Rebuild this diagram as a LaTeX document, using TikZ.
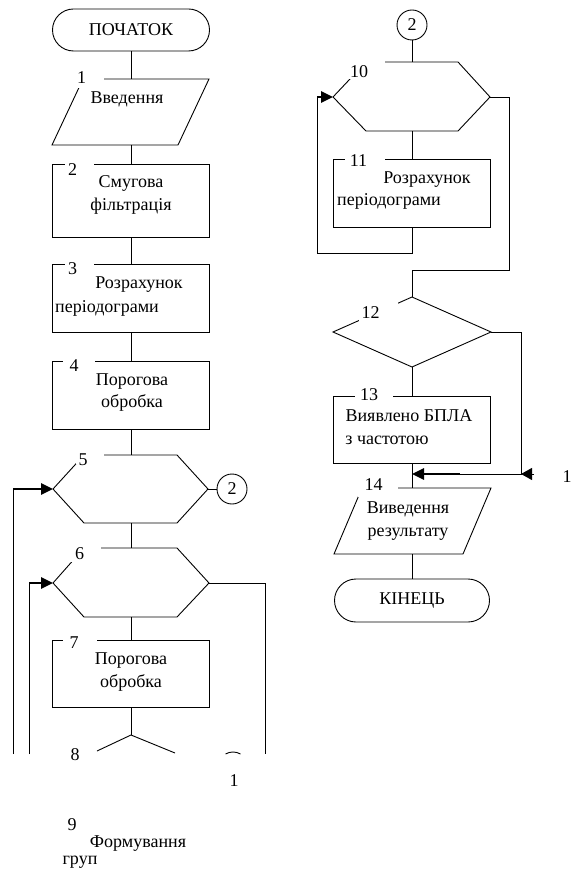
\documentclass[tikz,border=0pt]{standalone}
\usepackage{fontspec}
\setmainfont{Liberation Serif}
\usetikzlibrary{arrows.meta}
\begin{document}
\begin{tikzpicture}[x=1pt,y=-1pt, line width=0.9pt,
  every node/.style={font=\fontsize{18}{21}\selectfont, inner sep=0pt},
  txt/.style={text height=12pt, text depth=4pt},
  blk/.style={draw, minimum width=157pt},
  term/.style={draw, rounded corners=21pt, minimum width=157pt, minimum height=42pt},
  conn/.style={draw, circle, minimum size=30pt},
  mask/.style={fill=white, draw=none},
  thk/.style={line width=2.6pt, -{Triangle[length=12pt,width=11pt]}},
  ]
\useasboundingbox (0,0) rectangle (570,874);

% ---------------- left column ----------------
\node[term] (start) at (131,30) {ПОЧАТОК};

\coordinate (p1a) at (52,145); \coordinate (p1b) at (83,79);
\coordinate (p1c) at (209,79); \coordinate (p1d) at (178,145);
\coordinate (b1t) at (131,79); \coordinate (b1b) at (131,145);
\draw (p1a) -- (p1b) -- (p1c) -- (p1d) -- cycle;
\draw (start.south) -- (b1t);
\node[txt] (t1) at (127,100) {Введення};

\node[blk, minimum height=73pt] (b2) at (131,200.5) {};
\draw (b1b) -- (b2.north);
\node[txt] (t2a) at (131,184) {Смугова};
\node[txt] (t2b) at (131,207) {фільтрація};

\node[blk, minimum height=68pt] (b3) at (131,298) {};
\draw (b2.south) -- (b3.north);
\node[txt] (t3a) at (139,284) {Розрахунок};
\node[txt] (t3b) at (107,308) {періодограми};

\node[blk, minimum height=68pt] (b4) at (131,395) {};
\draw (b3.south) -- (b4.north);
\node[txt] (t4a) at (132,381) {Порогова};
\node[txt] (t4b) at (132,403) {обробка};

\coordinate (h5l) at (53,489); \coordinate (h5a) at (84,455);
\coordinate (h5b) at (177,455); \coordinate (h5r) at (208,489);
\coordinate (h5c) at (177,523); \coordinate (h5d) at (84,523);
\coordinate (h5t) at (131,455); \coordinate (h5bt) at (131,523);
\draw (h5l) -- (h5a) -- (h5b) -- (h5r) -- (h5c) -- (h5d) -- cycle;
\draw (b4.south) -- (h5t);
\node[conn] (c5) at (232,489) {2};
\draw (h5r) -- (c5.west);

\coordinate (h6l) at (53,583); \coordinate (h6a) at (84,548);
\coordinate (h6b) at (177,548); \coordinate (h6r) at (209,583);
\coordinate (h6c) at (177,617); \coordinate (h6d) at (84,617);
\coordinate (h6t) at (131,548); \coordinate (h6bt) at (131,617);
\draw (h6l) -- (h6a) -- (h6b) -- (h6r) -- (h6c) -- (h6d) -- cycle;
\draw (h5bt) -- (h6t);

\node[blk, minimum height=67pt] (b7) at (131,673.5) {};
\draw (h6bt) -- (b7.north);
\node[txt] (t7a) at (131,660) {Порогова};
\node[txt] (t7b) at (131,683) {обробка};

\coordinate (d8t) at (131,735); \coordinate (d8l) at (97,751);
\coordinate (d8r) at (175,753);
\draw (b7.south) -- (d8t);
\draw (d8l) -- (d8t) -- (d8r);
\draw (240.5,754) arc[start angle=60, end angle=120, radius=15pt];

% loops on the left
\coordinate (l5e) at (13,754); \coordinate (l5k) at (13,489);
\draw (l5e) -- (l5k);
\draw[thk] (l5k) -- (h5l);
\coordinate (l6e) at (29,754); \coordinate (l6k) at (29,583);
\draw (l6e) -- (l6k);
\draw[thk] (l6k) -- (h6l);
\coordinate (r6) at (265,583); \coordinate (r6e) at (265,754);
\draw (h6r) -- (r6) -- (r6e);

% ---------------- right column ----------------
\node[conn] (c2) at (412,25) {2};
\coordinate (h10l) at (333,97); \coordinate (h10a) at (366,62);
\coordinate (h10b) at (458,62); \coordinate (h10r) at (490,97);
\coordinate (h10c) at (458,131); \coordinate (h10d) at (366,131);
\coordinate (h10t) at (412,62); \coordinate (h10bt) at (412,131);
\draw (h10l) -- (h10a) -- (h10b) -- (h10r) -- (h10c) -- (h10d) -- cycle;
\draw (c2.south) -- (h10t);

\node[blk, minimum height=68pt] (b11) at (412,193) {};
\draw (h10bt) -- (b11.north);
\node[txt] (t11a) at (427,180) {Розрахунок};
\node[txt] (t11b) at (389,202) {періодограми};
\coordinate (lp1) at (412,253); \coordinate (lp2) at (317,253);
\coordinate (lp3) at (317,97);
\draw (b11.south) -- (lp1) -- (lp2) -- (lp3);
\draw[thk] (lp3) -- (h10l);

\coordinate (d12t) at (412,297); \coordinate (d12r) at (491,332);
\coordinate (d12b) at (412,367); \coordinate (d12l) at (333,332);
\draw (d12t) -- (d12r) -- (d12b) -- (d12l) -- cycle;
\coordinate (e1) at (509,97); \coordinate (e2) at (509,270);
\coordinate (e3) at (412,270);
\draw (h10r) -- (e1) -- (e2) -- (e3) -- (d12t);

\node[blk, minimum height=67pt] (b13) at (412,429.5) {};
\draw (d12b) -- (b13.north);
\node[txt] (t13a) at (409,417) {Виявлено БПЛА};
\node[txt] (t13b) at (387,440) {з частотою};

\coordinate (f1) at (521,332); \coordinate (f2) at (521,474);
\coordinate (f3) at (460,474); \coordinate (j14) at (412,474);
\draw (d12r) -- (f1) -- (f2) -- (f3);
\draw[thk] (f3) -- (j14);
\coordinate (o1) at (534,474);
\draw[-{Triangle[length=11pt,width=12pt]}] (o1) -- (f2);
\node (n1r) at (567,477) {1};

\coordinate (q1) at (334,554); \coordinate (q2) at (362,488);
\coordinate (q3) at (491,488); \coordinate (q4) at (463,554);
\coordinate (p14t) at (412,488); \coordinate (p14b) at (412,554);
\draw (q1) -- (q2) -- (q3) -- (q4) -- cycle;
\draw (b13.south) -- (p14t);
\node[txt] (t14a) at (408,509) {Виведення};
\node[txt] (t14b) at (408,532) {результату};

\node[term, minimum width=155pt, minimum height=43pt, rounded corners=21.5pt] (end) at (412,600.5) {КІНЕЦЬ};
\draw (p14b) -- (end.north);

% ---------------- number labels (white boxes cut the lines) ----------------
\path[mask] (76,66) rectangle (104,88);
\path[mask] (65,155) rectangle (94,180);
\path[mask] (65,256) rectangle (94,277);
\path[mask] (63,353) rectangle (95,374);
\path[mask] (76,447) rectangle (104,463.5);
\path[mask] (70,540) rectangle (101,562);
\path[mask] (63,632) rectangle (97,652);
\path[mask] (348,55) rectangle (385,79);
\path[mask] (345,150) rectangle (385,172);
\path[mask] (358.5,298) rectangle (397.5,322);
\path[mask] (355,386) rectangle (393,405);
\path[mask] (358,478) rectangle (398,497);

\node (n1) at (81.5,78) {1};
\node (n2) at (72.5,170) {2};
\node (n3) at (72.5,269) {3};
\node (n4) at (74,366) {4};
\node (n5) at (83,460) {5};
\node (n6) at (79.5,554) {6};
\node (n7) at (74,642.5) {7};
\node (n8) at (75,755) {8};
\node (n10) at (359,71.5) {10};
\node (n11) at (358.5,161) {11};
\node (n12) at (370.5,312.5) {12};
\node (n13) at (369,395) {13};
\node (n14) at (373.5,485) {14};

% ---------------- texts below the cut ----------------
\node (n1b) at (234,781) {1};
\node (n9) at (72,825) {9};
\node[txt] (t9a) at (138,843) {Формування};
\node[txt] (t9b) at (80,860) {груп};
\end{tikzpicture}
\end{document}
